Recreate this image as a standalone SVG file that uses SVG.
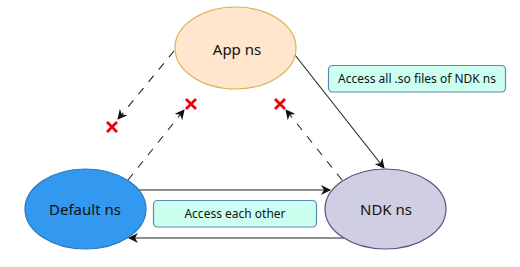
<svg xmlns="http://www.w3.org/2000/svg" width="520" height="267" viewBox="0 0 520 267">
<style>
text{font-family:"Noto Sans","Open Sans","Liberation Sans",sans-serif;fill:#111;text-anchor:middle;dominant-baseline:central}
.n{font-size:15px}
.l{font-size:12px}
.c{fill:none;stroke:#222;stroke-width:1.1}
.d{stroke-dasharray:8 8}
.lab{fill:#ccfff0;stroke:#5a88b8;stroke-width:1.2}
.x{stroke:#e00;stroke-width:2.8;fill:none}
</style>
<defs>
<marker id="a" viewBox="0 0 10 10" refX="9" refY="5" markerWidth="10" markerHeight="10" markerUnits="userSpaceOnUse" orient="auto">
<path d="M0,0 L10,5 L0,10 L3,5 Z" fill="#111"/>
</marker>
</defs>
<g id="connectors">
<path class="c" d="M295,55 L384,168" marker-end="url(#a)"/>
<path class="c" d="M137,190 L330,190" marker-end="url(#a)"/>
<path class="c" d="M345,238 L129,238" marker-end="url(#a)"/>
<path class="c d" d="M174,51 L118,119" marker-end="url(#a)"/>
<path class="c d" d="M128,180 L184,110" marker-end="url(#a)"/>
<path class="c d" d="M342,180 L286,110" marker-end="url(#a)"/>
</g>
<g id="app">
<ellipse cx="235.5" cy="48" rx="60.5" ry="41" fill="#ffe6cc" stroke="#d6b656" stroke-width="1.2"/>
<text class="n" x="237" y="49">App ns</text>
</g>
<g id="default">
<ellipse cx="85.5" cy="209" rx="60.5" ry="40" fill="#3399f0" stroke="#2a78b8" stroke-width="1.2"/>
<text class="n" x="85" y="209">Default ns</text>
</g>
<g id="ndk">
<ellipse cx="385.5" cy="209" rx="60.5" ry="40" fill="#d0cee2" stroke="#56517e" stroke-width="1.2"/>
<text class="n" x="386" y="209">NDK ns</text>
</g>
<g id="label-all">
<rect class="lab" x="328.5" y="65.5" width="177" height="26.5" rx="4"/>
<text class="l" x="417" y="78.5">Access all .so files of NDK ns</text>
</g>
<g id="label-each">
<rect class="lab" x="153.5" y="200.5" width="163" height="26.5" rx="4"/>
<text class="l" x="235" y="213.5">Access each other</text>
</g>
<g id="x1"><path class="x" d="M107,122 L117,132 M117,122 L107,132"/></g>
<g id="x2"><path class="x" d="M186,99 L196,109 M196,99 L186,109"/></g>
<g id="x3"><path class="x" d="M275,99 L285,109 M285,99 L275,109"/></g>
</svg>
